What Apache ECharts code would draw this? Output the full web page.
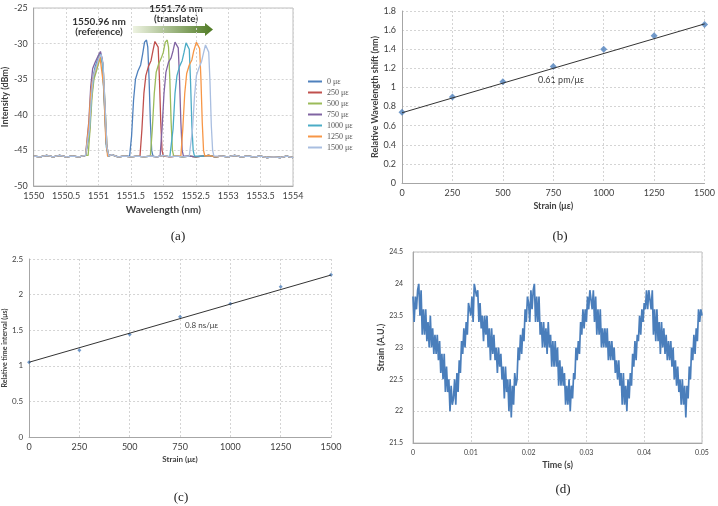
<!DOCTYPE html>
<html>
<head>
<meta charset="utf-8">
<script src="https://cdn.jsdelivr.net/npm/echarts@6.0.0/dist/echarts.min.js"></script>
<style>
  html, body { margin: 0; padding: 0; background: #fff; }
  #chart { width: 718px; height: 506px; }
</style>
</head>
<body>
<div id="chart"></div>
<script>
// ---- (a) spectra ----
var strainNames = ['0 με', '250 με', '500 με', '750 με', '1000 με', '1250 με', '1500 με'];
var spectraColors = ['#4F81BD', '#C0504D', '#9BBB59', '#8064A2', '#4BACC6', '#F79646', '#A9BEE0'];

var baseLine = [[1550,-45.8],[1550.1,-45.9],[1550.2,-45.7],[1550.3,-45.9],[1550.4,-45.7],[1550.5,-45.9],[1550.6,-45.8],
  [1550.7,-45.9],[1550.8,-45.7],[1550.9,-45.8],[1551,-45.8],[1551.1,-45.7],[1551.2,-45.6],[1551.3,-45.9],[1551.4,-45.8],
  [1551.5,-45.9],[1551.6,-45.8],[1551.7,-45.9],[1551.8,-45.8],[1551.9,-45.9],[1552,-45.7],[1552.1,-45.9],[1552.2,-45.8],
  [1552.3,-45.9],[1552.4,-45.8],[1552.5,-45.9],[1552.6,-45.8],[1552.7,-45.7],[1552.8,-45.9],[1552.9,-45.8],[1553,-45.9],
  [1553.1,-45.7],[1553.2,-45.9],[1553.3,-45.8],[1553.4,-45.9],[1553.5,-45.8],[1553.6,-46.0],[1553.7,-45.9],[1553.8,-46.0],
  [1553.9,-45.8],[1554,-46.0]];

var refPeaks = [
  [[1550.83,-45.7],[1550.86,-42],[1550.89,-37.5],[1550.92,-34.5],[1550.95,-33.2],[1550.99,-32.2],[1551.03,-31.4],[1551.06,-32.6],[1551.09,-38],[1551.12,-44],[1551.15,-45.8]],
  [[1550.83,-45.7],[1550.86,-42.5],[1550.89,-38],[1550.92,-35],[1550.96,-33.5],[1551.0,-32.3],[1551.04,-31.6],[1551.07,-33],[1551.1,-39],[1551.13,-44.5],[1551.16,-45.8]],
  [[1550.84,-45.7],[1550.87,-42],[1550.9,-37.5],[1550.93,-35],[1550.97,-33.8],[1551.01,-32.5],[1551.04,-31.8],[1551.07,-33],[1551.1,-38.5],[1551.13,-44.5],[1551.16,-45.8]],
  [[1550.82,-45.7],[1550.85,-41],[1550.88,-36],[1550.91,-33.5],[1550.95,-32.6],[1550.99,-31.8],[1551.03,-31.1],[1551.06,-32.3],[1551.09,-37.5],[1551.12,-44],[1551.15,-45.8]],
  [[1550.83,-45.7],[1550.86,-42],[1550.89,-37],[1550.92,-34.8],[1550.95,-33.5],[1550.99,-32.4],[1551.03,-31.5],[1551.06,-32.8],[1551.09,-38.5],[1551.12,-44.5],[1551.15,-45.8]],
  [[1550.82,-45.7],[1550.85,-41.5],[1550.88,-37],[1550.91,-35],[1550.94,-34],[1550.98,-33],[1551.02,-31.7],[1551.05,-31.9],[1551.08,-36],[1551.11,-43],[1551.14,-45.8]],
  [[1550.83,-45.7],[1550.86,-42],[1550.89,-37.5],[1550.92,-34.6],[1550.96,-33.4],[1551.0,-32.2],[1551.04,-31.5],[1551.07,-32.8],[1551.1,-38.5],[1551.13,-44.5],[1551.16,-45.8]]
];

var shiftPeaks = [
  [[1551.48,-45.8],[1551.51,-43],[1551.54,-38],[1551.57,-35],[1551.61,-33.8],[1551.65,-33],[1551.68,-31.5],[1551.71,-29.8],[1551.74,-29.5],[1551.76,-30.5],[1551.78,-35],[1551.8,-41],[1551.82,-45],[1551.84,-45.8]],
  [[1551.64,-45.8],[1551.67,-42],[1551.7,-37],[1551.73,-34.5],[1551.77,-33.2],[1551.81,-32.4],[1551.84,-31],[1551.87,-29.7],[1551.9,-29.5],[1551.92,-30.5],[1551.94,-35],[1551.96,-41],[1551.98,-45],[1552,-45.8]],
  [[1551.8,-45.8],[1551.83,-42],[1551.86,-37],[1551.89,-34],[1551.93,-32.8],[1551.97,-32],[1552.0,-31.2],[1552.03,-29.8],[1552.06,-29.5],[1552.08,-30.5],[1552.1,-35],[1552.12,-41],[1552.14,-45],[1552.16,-45.8]],
  [[1551.95,-45.8],[1551.98,-42],[1552.01,-37],[1552.04,-34],[1552.08,-32.6],[1552.12,-32],[1552.15,-31],[1552.18,-29.8],[1552.21,-29.6],[1552.23,-30.6],[1552.25,-35],[1552.27,-41],[1552.29,-45],[1552.31,-45.8]],
  [[1552.12,-45.8],[1552.15,-42],[1552.18,-37],[1552.21,-34.5],[1552.25,-33.2],[1552.29,-32.4],[1552.32,-31.2],[1552.35,-29.9],[1552.38,-29.7],[1552.4,-30.8],[1552.42,-35.5],[1552.44,-41.5],[1552.46,-45],[1552.48,-45.8]],
  [[1552.27,-45.8],[1552.3,-42],[1552.33,-37],[1552.36,-34.2],[1552.4,-33],[1552.44,-32.3],[1552.47,-31],[1552.51,-29.8],[1552.54,-29.6],[1552.56,-30.7],[1552.58,-35],[1552.6,-41],[1552.62,-45],[1552.64,-45.8]],
  [[1552.42,-45.8],[1552.45,-42],[1552.48,-37.5],[1552.51,-34.5],[1552.55,-33.4],[1552.59,-32.5],[1552.62,-31.3],[1552.65,-30.2],[1552.68,-30.0],[1552.7,-31.2],[1552.72,-35.5],[1552.74,-41.5],[1552.76,-45],[1552.78,-45.8]]
];

// ---- (b) wavelength shift ----
var strainB = [0, 250, 500, 750, 1000, 1250, 1500];
var shiftB = [0.74, 0.90, 1.06, 1.22, 1.40, 1.54, 1.66];
var fitB = [[0, 0.735], [1500, 1.665]];

// ---- (c) time interval ----
var strainC = [0, 250, 500, 750, 1000, 1250, 1500];
var timeC = [1.05, 1.22, 1.44, 1.69, 1.87, 2.11, 2.28];
var fitC = [[0, 1.05], [1500, 2.275]];

// ---- (d) dynamic strain, sampled every 0.2 ms ----
var timeStepD = 0.0002;
var strainD = [
  23.8,23.4,23.8,23.6,23.9,24.0,23.5,23.9,23.2,23.6, 23.2,23.6,23.1,23.4,23.0,23.5,23.0,23.3,22.9,23.2,
  22.9,23.2,22.8,23.1,22.6,22.9,22.5,22.9,22.3,22.7, 22.3,22.5,22.0,22.4,22.1,22.2,22.5,22.1,22.6,22.3,
  22.8,22.6,23.1,22.9,23.3,23.0,23.4,23.2,23.7,23.6,
  23.5,23.8,23.4,24.0,24.0,23.8,23.9,23.4,23.7,23.3, 23.5,23.1,23.5,23.2,23.5,23.0,23.3,22.8,23.3,22.9,
  23.2,22.8,23.0,22.6,23.0,22.7,22.9,22.5,22.7,22.2, 22.7,22.3,22.5,22.0,22.5,21.9,22.4,22.1,22.6,22.4,
  22.5,23.0,22.8,23.2,22.9,23.3,23.1,23.6,23.4,23.8,
  23.7,23.4,23.9,23.6,23.9,24.0,23.4,23.8,23.4,23.8, 23.2,23.4,23.0,23.4,23.0,23.3,22.9,23.4,23.0,23.2,
  22.7,23.1,22.7,23.1,22.7,23.0,22.4,22.8,22.4,22.7, 22.4,22.6,22.1,22.4,22.1,22.5,22.0,22.4,22.2,22.6,
  22.5,23.0,22.8,23.1,22.9,23.4,23.2,23.6,23.3,23.6,
  23.4,23.8,23.6,23.9,23.9,23.6,23.9,23.4,23.8,23.2, 23.6,23.2,23.6,23.0,23.3,23.0,23.3,23.0,23.3,22.8,
  23.1,22.8,23.1,22.8,23.0,22.6,22.8,22.5,22.8,22.4, 22.6,22.1,22.6,22.1,22.4,22.0,22.5,22.2,22.6,22.4,
  22.9,22.7,23.1,22.8,23.2,23.1,23.5,23.2,23.6,23.4,
  23.7,23.6,23.9,23.6,23.9,23.9,23.6,23.9,23.2,23.6, 23.1,23.6,23.1,23.4,22.9,23.4,23.0,23.3,22.9,23.2,
  22.8,23.1,22.8,23.1,22.7,23.0,22.5,22.8,22.4,22.7, 22.3,22.5,22.1,22.5,22.1,22.4,21.9,22.4,22.2,22.7,
  22.5,23.0,22.8,23.2,22.9,23.3,23.1,23.6,23.4,23.6,
  23.5
];

function buildSpectrum(ref, shift) {
  var pts = [];
  baseLine.forEach(function (p) {
    var inRef = p[0] >= ref[0][0] && p[0] <= ref[ref.length - 1][0];
    var inShift = p[0] >= shift[0][0] && p[0] <= shift[shift.length - 1][0];
    if (!inRef && !inShift) pts.push(p);
  });
  pts = pts.concat(ref, shift);
  pts.sort(function (a, b) { return a[0] - b[0]; });
  return pts;
}

var font = 'Lato, "Liberation Sans", sans-serif';
var gridLine = { show: true, lineStyle: { color: '#d4d4d4', type: [2, 2], width: 1 } };

function axis(o) {
  return {
    type: 'value',
    gridIndex: o.grid,
    min: o.min, max: o.max, interval: o.interval,
    name: o.name, nameLocation: 'middle', nameGap: o.gap,
    nameTextStyle: { fontFamily: font, fontWeight: 'bold', fontSize: o.nameSize, color: '#404040' },
    axisLine: { show: true, onZero: false, lineStyle: { color: '#a6a6a6' } },
    axisTick: { show: false },
    axisLabel: {
      fontFamily: font, fontSize: o.labelSize, color: '#404040', margin: o.margin || 6,
      formatter: function (v) { return String(+v.toFixed(4)); }
    },
    splitLine: gridLine
  };
}

var series = [];
strainNames.forEach(function (n, i) {
  series.push({
    name: n, type: 'line', xAxisIndex: 0, yAxisIndex: 0,
    data: buildSpectrum(refPeaks[i], shiftPeaks[i]),
    showSymbol: false, symbol: 'none',
    lineStyle: { width: 1.3, color: spectraColors[i] },
    itemStyle: { color: spectraColors[i] }
  });
});

series.push({ type: 'line', xAxisIndex: 1, yAxisIndex: 1, data: fitB, showSymbol: false,
  lineStyle: { color: '#333', width: 1 } });
series.push({ type: 'scatter', xAxisIndex: 1, yAxisIndex: 1, symbol: 'diamond', symbolSize: 7,
  data: strainB.map(function (s, i) { return [s, shiftB[i]]; }), itemStyle: { color: '#4F81BD' } });

series.push({ type: 'line', xAxisIndex: 2, yAxisIndex: 2, data: fitC, showSymbol: false,
  lineStyle: { color: '#333', width: 1 } });
series.push({ type: 'scatter', xAxisIndex: 2, yAxisIndex: 2, symbol: 'diamond', symbolSize: 4,
  data: strainC.map(function (s, i) { return [s, timeC[i]]; }), itemStyle: { color: '#4F81BD' } });

series.push({ type: 'line', xAxisIndex: 3, yAxisIndex: 3, showSymbol: false, sampling: 'none',
  data: strainD.map(function (v, i) { return [i * timeStepD, v]; }),
  lineStyle: { color: '#4A7EBB', width: 1.7 } });

var option = {
  backgroundColor: '#fff',
  animation: false,
  grid: [
    { left: 28, top: 8, width: 265, height: 178, show: true, borderColor: '#bfbfbf', borderWidth: 1 },
    { left: 402, top: 11, width: 313, height: 172 },
    { left: 26, top: 259, width: 305, height: 178 },
    { left: 413, top: 252, width: 289, height: 191, show: true, borderColor: '#bfbfbf', borderWidth: 1 }
  ],
  xAxis: [
    axis({ grid: 0, min: 1550, max: 1554, interval: 0.5, name: 'Wavelength (nm)', gap: 19, nameSize: 10, labelSize: 9 }),
    axis({ grid: 1, min: 0, max: 1500, interval: 250, name: 'Strain (με)', gap: 19, nameSize: 9, labelSize: 9 }),
    axis({ grid: 2, min: 0, max: 1500, interval: 250, name: 'Strain (με)', gap: 18, nameSize: 8, labelSize: 9 }),
    axis({ grid: 3, min: 0, max: 0.05, interval: 0.01, name: 'Time (s)', gap: 18, nameSize: 9, labelSize: 7 })
  ],
  yAxis: [
    axis({ grid: 0, min: -50, max: -25, interval: 5, name: 'Intensity (dBm)', gap: 21, nameSize: 9, labelSize: 9 }),
    axis({ grid: 1, min: 0, max: 1.8, interval: 0.2, name: 'Relative Wavelength shift (nm)', gap: 19, nameSize: 9, labelSize: 9 }),
    axis({ grid: 2, min: 0, max: 2.5, interval: 0.5, name: 'Relative time interval (μs)', gap: 15, nameSize: 7, labelSize: 8 }),
    axis({ grid: 3, min: 21.5, max: 24.5, interval: 0.5, name: 'Strain (A.U.)', gap: 19, nameSize: 9, labelSize: 7, margin: 10 })
  ],
  legend: {
    data: strainNames, orient: 'vertical', left: 303, top: 72,
    itemWidth: 14, itemHeight: 2, itemGap: 2, icon: 'rect',
    textStyle: { fontFamily: '"Liberation Serif", serif', fontSize: 8, color: '#555', lineHeight: 9 }
  },
  graphic: [
    { type: 'polygon', shape: { points: [[133, 26], [205, 26], [205, 23], [213, 29.5], [205, 36], [205, 33], [133, 33]] },
      style: { fill: new echarts.graphic.LinearGradient(0, 0, 1, 0, [
        { offset: 0, color: '#eef3e2' }, { offset: 1, color: '#4f7a23' }]) } },
    { type: 'text', x: 176, y: 9, style: { text: '1551.76 nm', font: 'bold 10px ' + font, fill: '#333', align: 'center', verticalAlign: 'middle' } },
    { type: 'text', x: 176, y: 19, style: { text: '(translate)', font: 'bold 10px ' + font, fill: '#333', align: 'center', verticalAlign: 'middle' } },
    { type: 'text', x: 99, y: 22, style: { text: '1550.96 nm', font: 'bold 10px ' + font, fill: '#333', align: 'center', verticalAlign: 'middle' } },
    { type: 'text', x: 99, y: 32, style: { text: '(reference)', font: 'bold 10px ' + font, fill: '#333', align: 'center', verticalAlign: 'middle' } },
    { type: 'text', x: 538, y: 80, style: { text: '0.61 pm/με', font: '9px ' + font, fill: '#404040', verticalAlign: 'middle' } },
    { type: 'text', x: 185, y: 325, style: { text: '0.8 ns/με', font: '8px ' + font, fill: '#404040', verticalAlign: 'middle' } },
    { type: 'text', x: 178, y: 237, style: { text: '(a)', font: '13px "Liberation Serif", serif', fill: '#222', align: 'center', verticalAlign: 'middle' } },
    { type: 'text', x: 560, y: 237, style: { text: '(b)', font: '13px "Liberation Serif", serif', fill: '#222', align: 'center', verticalAlign: 'middle' } },
    { type: 'text', x: 181, y: 498, style: { text: '(c)', font: '13px "Liberation Serif", serif', fill: '#222', align: 'center', verticalAlign: 'middle' } },
    { type: 'text', x: 563, y: 490, style: { text: '(d)', font: '13px "Liberation Serif", serif', fill: '#222', align: 'center', verticalAlign: 'middle' } }
  ],
  series: series
};

var myChart = echarts.init(document.getElementById('chart'), null, { renderer: 'canvas' });
myChart.setOption(option);
</script>
</body>
</html>
